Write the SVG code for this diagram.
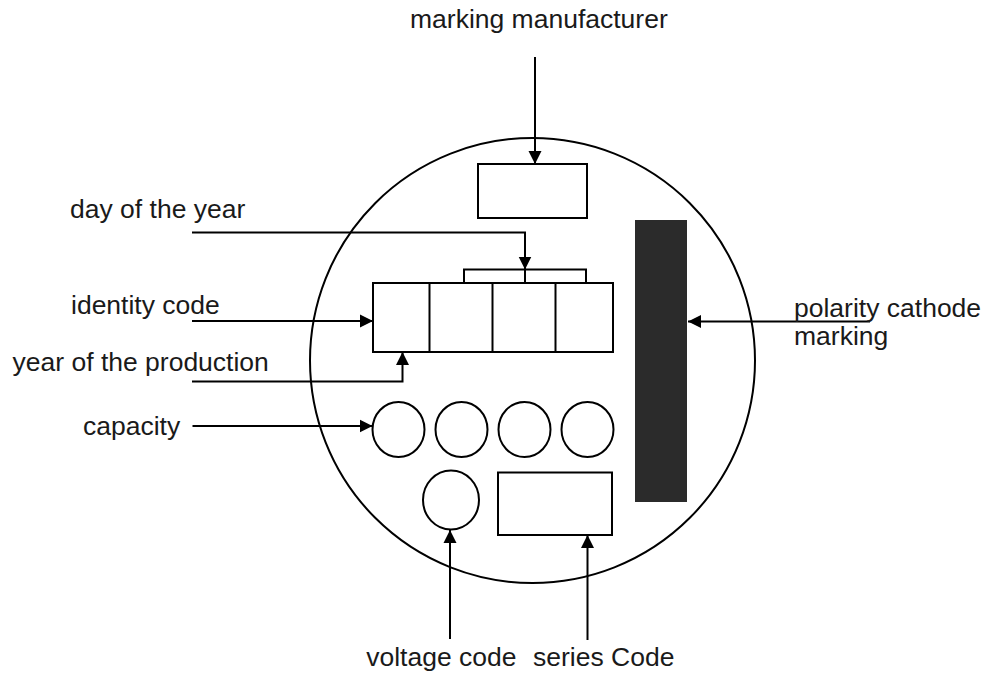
<svg xmlns="http://www.w3.org/2000/svg" width="985" height="673" viewBox="0 0 985 673">
<style>
.s{fill:none;stroke:#000;stroke-width:2}
.w{fill:#fff;stroke:#000;stroke-width:2}
.c{fill:none;stroke:#000;stroke-width:2}
.t{font-family:"Liberation Sans",Arial,sans-serif;font-size:26.5px;fill:#1a1a1a}
</style>
<defs>
<marker id="ah" markerUnits="userSpaceOnUse" markerWidth="14" markerHeight="14" refX="13" refY="7" orient="auto">
<path d="M0,0.5 L13,7 L0,13.5 z" fill="#000"/>
</marker>
</defs>
<rect width="985" height="673" fill="#fff"/>
<g id="body">
<circle cx="532.5" cy="360.5" r="222.5" class="s"/>
</g>
<g id="manufacturer-box"><rect x="478" y="164" width="109" height="54" class="w"/></g>
<g id="date-row">
<polyline points="464,283 464,269.5 586,269.5 586,283" class="s"/>
<rect x="373" y="283" width="240" height="69" class="w"/>
<line x1="429.5" y1="283" x2="429.5" y2="352" class="s"/>
<line x1="492.5" y1="283" x2="492.5" y2="352" class="s"/>
<line x1="555.5" y1="283" x2="555.5" y2="352" class="s"/>
<line x1="525" y1="269.5" x2="525" y2="283" class="s"/>
</g>
<g id="capacity-circles">
<ellipse cx="398.5" cy="429.5" rx="26" ry="27.5" class="s"/>
<ellipse cx="461.5" cy="429.5" rx="26" ry="27.5" class="s"/>
<ellipse cx="524.5" cy="429.5" rx="26" ry="27.5" class="s"/>
<ellipse cx="587.5" cy="429.5" rx="26" ry="27.5" class="s"/>
</g>
<g id="voltage-circle"><ellipse cx="451" cy="500" rx="28" ry="29.5" class="s"/></g>
<g id="series-box"><rect x="498" y="472.5" width="114" height="62.5" class="w"/></g>
<g id="cathode-bar"><rect x="635" y="220" width="52" height="282" fill="#2b2b2b"/></g>
<g id="connectors">
<line x1="535" y1="57" x2="535" y2="164" class="c" marker-end="url(#ah)"/>
<polyline points="192,232.5 525,232.5 525,269.5" class="c" marker-end="url(#ah)"/>
<line x1="192" y1="321" x2="373" y2="321" class="c" marker-end="url(#ah)"/>
<polyline points="192,381.5 402.5,381.5 402.5,352" class="c" marker-end="url(#ah)"/>
<line x1="192.5" y1="426" x2="372.5" y2="426" class="c" marker-end="url(#ah)"/>
<line x1="870" y1="321.5" x2="688" y2="321.5" class="c" marker-end="url(#ah)"/>
<line x1="450" y1="639" x2="450" y2="530" class="c" marker-end="url(#ah)"/>
<line x1="587.5" y1="640" x2="587.5" y2="535" class="c" marker-end="url(#ah)"/>
</g>
<g id="labels">
<text class="t" x="410" y="28">marking manufacturer</text>
<text class="t" x="70" y="218">day of the year</text>
<text class="t" x="71" y="314">identity code</text>
<text class="t" x="12.5" y="371">year of the production</text>
<text class="t" x="83" y="435">capacity</text>
<text class="t" x="794" y="317">polarity cathode</text>
<text class="t" x="794" y="345">marking</text>
<text class="t" x="516.5" y="666" text-anchor="end">voltage code</text>
<text class="t" x="533" y="666">series Code</text>
</g>
</svg>
